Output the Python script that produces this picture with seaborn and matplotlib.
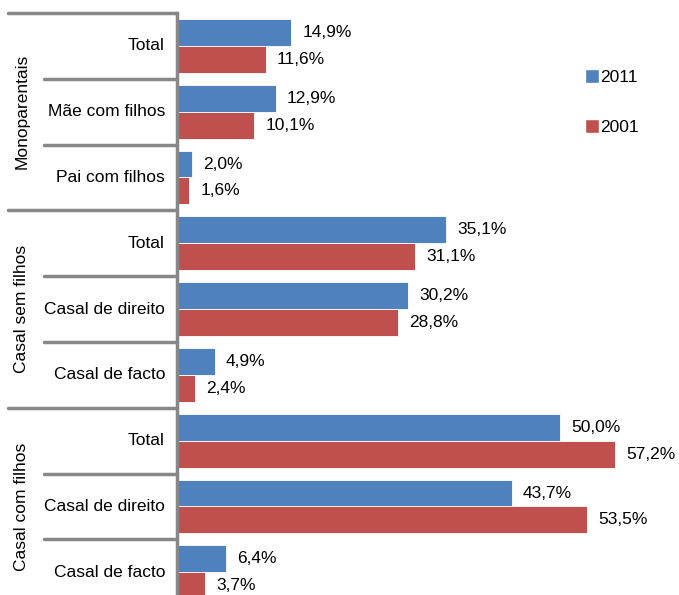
import numpy as np
import pandas as pd
import seaborn as sns
import matplotlib.pyplot as plt
from matplotlib.patches import Patch
from matplotlib.transforms import blended_transform_factory

# data
groups = ["Monoparentais", "Casal sem filhos", "Casal com filhos"]
subcats = [
    ["Total", "Mãe com filhos", "Pai com filhos"],
    ["Total", "Casal de direito", "Casal de facto"],
    ["Total", "Casal de direito", "Casal de facto"],
]
years = ["2011", "2001"]
vals_2011 = [14.9, 12.9, 2.0, 35.1, 30.2, 4.9, 50.0, 43.7, 6.4]
vals_2001 = [11.6, 10.1, 1.6, 31.1, 28.8, 2.4, 57.2, 53.5, 3.7]

colors = {"2011": "#4F81BD", "2001": "#C0504D"}
GRAY = "#878787"
FS = 12.5

sns.set_style("white")
plt.rcParams["font.family"] = ["Liberation Sans", "DejaVu Sans"]
plt.rcParams["font.size"] = FS
plt.rcParams["text.color"] = "black"

# long form table, unique key per row
keys = [f"{g}|{s}" for g, subs in zip(groups, subcats) for s in subs]
df = pd.DataFrame({
    "key": keys * 2,
    "year": ["2011"] * len(keys) + ["2001"] * len(keys),
    "value": vals_2011 + vals_2001,
})

fig = plt.figure(figsize=(6.79, 5.95), dpi=100)
ax = fig.add_axes([177 / 679, 0, 502 / 679, 582 / 595])

sns.barplot(data=df, y="key", x="value", hue="year", hue_order=years,
            order=keys, palette=colors, width=0.82, orient="h",
            legend=False, ax=ax, saturation=1, edgecolor="white", linewidth=0.6)

ax.set_xlim(0, 502 / 7.66)
ax.set_ylim(8.345, -0.5)

# value labels, comma decimals
for cont in ax.containers:
    labels = [f"{b.get_width():.1f}%".replace(".", ",") for b in cont]
    ax.bar_label(cont, labels=labels, padding=8, fontsize=FS, color="black")

# axes cosmetics
ax.set_xlabel("")
ax.set_ylabel("")
ax.set_xticks([])
ax.set_yticks([])
for s in ["top", "right", "bottom"]:
    ax.spines[s].set_visible(False)
ax.spines["left"].set_color(GRAY)
ax.spines["left"].set_linewidth(2.5)

# multi-level category axis drawn by hand
tr = blended_transform_factory(ax.transAxes, ax.transData)
px = lambda p: (p - 177) / 502  # figure px -> axes x
for i, k in enumerate(keys):
    ax.text(px(165), i, k.split("|")[1], ha="right", va="center",
            transform=tr, fontsize=FS, color="black")
for gi, g in enumerate(groups):
    ax.text(px(22), gi * 3 + 1, g, rotation=90, ha="center", va="center",
            transform=tr, fontsize=FS, color="black")
for y in [-0.5, 2.5, 5.5, 8.5]:
    ax.plot([px(8), 0], [y, y], color=GRAY, lw=2.5, transform=tr, clip_on=False)
for y in [0.5, 1.5, 3.5, 4.5, 6.5, 7.5]:
    ax.plot([px(44), 0], [y, y], color=GRAY, lw=2.5, transform=tr, clip_on=False)

handles = [Patch(facecolor=colors[y], label=y) for y in years]
fig.legend(handles=handles, loc="upper left", bbox_to_anchor=(576 / 679, 1 - 60 / 595),
           frameon=False, handlelength=0.8, handleheight=0.9, handletextpad=0.1,
           labelspacing=1.95, borderpad=0, fontsize=FS, labelcolor="black")

fig.savefig("out.png", dpi=100)
